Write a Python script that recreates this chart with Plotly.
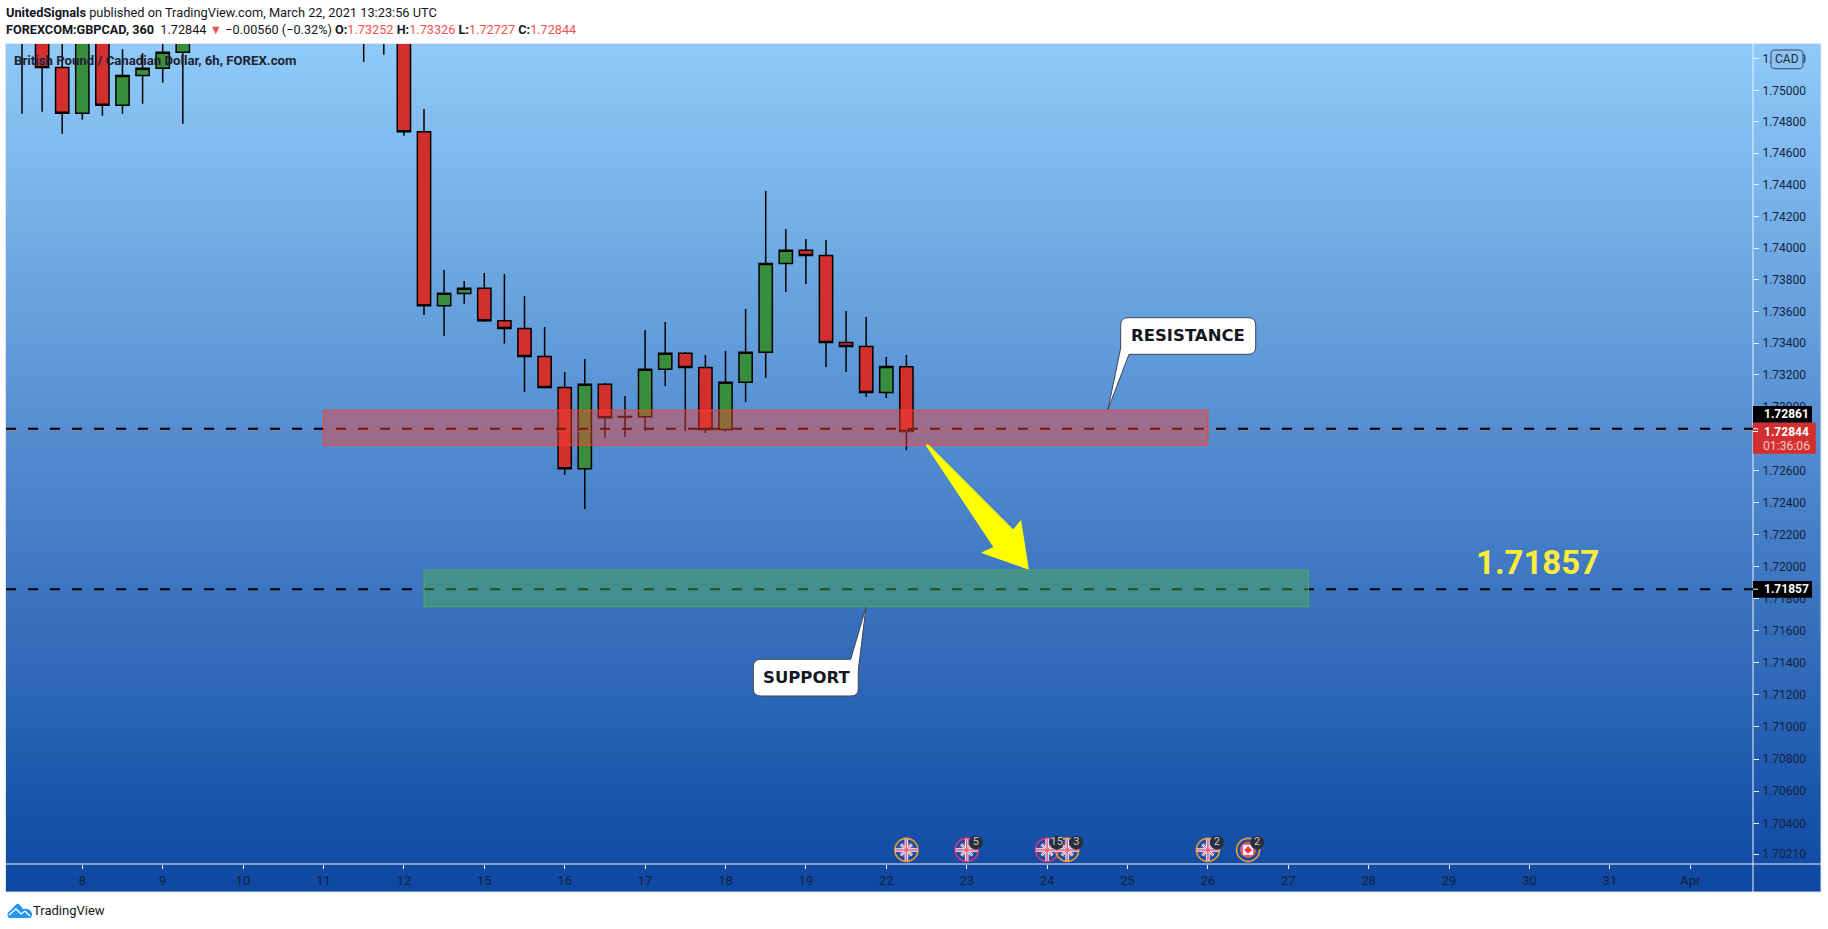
import math
import plotly.graph_objects as go

W, H = 1828, 929

# ---- candle data (bar index 0 = first bar of "8") ----
bar_index = [-3, -2, -1, 0, 1, 2, 3, 4, 5, 14, 15, 16, 17, 18, 19, 20, 21, 22, 23, 24, 25, 26, 27, 28, 29, 30, 31, 32, 33, 34, 35, 36, 37, 38, 39, 40, 41]
opens  = [1.75450, 1.75400, 1.75145, 1.74854, 1.75350, 1.74905, 1.75094, 1.75140, 1.75242, 1.75550, 1.75520, 1.75450, 1.74737, 1.73636, 1.73713, 1.73746, 1.73541, 1.73492, 1.73316, 1.73121, 1.72611, 1.73141, 1.72938, 1.72937, 1.73235, 1.73336, 1.73247, 1.72857, 1.73154, 1.73342, 1.73902, 1.73986, 1.73953, 1.73404, 1.73379, 1.73089, 1.73252]
highs  = [1.75500, 1.75500, 1.75360, 1.75480, 1.75450, 1.75261, 1.75235, 1.75350, 1.75480, 1.75600, 1.75600, 1.75550, 1.74881, 1.73861, 1.73792, 1.73842, 1.73836, 1.73697, 1.73502, 1.73218, 1.73300, 1.73149, 1.73067, 1.73483, 1.73533, 1.73344, 1.73325, 1.73351, 1.73615, 1.74361, 1.74121, 1.74057, 1.74051, 1.73603, 1.73565, 1.73313, 1.73326]
lows   = [1.74851, 1.74864, 1.74724, 1.74813, 1.74839, 1.74851, 1.74915, 1.75048, 1.74788, 1.75182, 1.75226, 1.74711, 1.73577, 1.73445, 1.73649, 1.73533, 1.73397, 1.73093, 1.73115, 1.72572, 1.72358, 1.72804, 1.72810, 1.72847, 1.73130, 1.72847, 1.72835, 1.72841, 1.73030, 1.73182, 1.73722, 1.73773, 1.73250, 1.73218, 1.73061, 1.73055, 1.72727]
closes = [1.75350, 1.75145, 1.74854, 1.75400, 1.74905, 1.75094, 1.75140, 1.75242, 1.75400, 1.75450, 1.75400, 1.74737, 1.73636, 1.73714, 1.73746, 1.73541, 1.73492, 1.73316, 1.73121, 1.72611, 1.73141, 1.72931, 1.72935, 1.73235, 1.73336, 1.73247, 1.72857, 1.73154, 1.73342, 1.73902, 1.73986, 1.73953, 1.73404, 1.73379, 1.73089, 1.73253, 1.72844]

# ---- axis labels ----
price_ticks = [1.752, 1.750, 1.748, 1.746, 1.744, 1.742, 1.740, 1.738, 1.736, 1.734, 1.732, 1.730, 1.728, 1.726, 1.724, 1.722, 1.720, 1.718, 1.716, 1.714, 1.712, 1.710, 1.708, 1.706, 1.704, 1.7021]
day_ticks = [0, 4, 8, 12, 16, 20, 24, 28, 32, 36, 40, 44, 48, 52, 56, 60, 64, 68, 72, 76, 80]
day_labels = ["8", "9", "10", "11", "12", "15", "16", "17", "18", "19", "22", "23", "24", "25", "26", "27", "28", "29", "30", "31", "Apr"]

# ---- levels / zones ----
resistance_level = 1.72861
support_level = 1.71857
last_price = 1.72844
res_zone = dict(x0=12, x1=56, y0=1.72758, y1=1.72978)
sup_zone = dict(x0=17, x1=61, y0=1.71748, y1=1.71975)

# ---- events ----
event_y = 1.70237
badge_y = 1.70282
uk_events = [41, 44, 48, 49, 56]
uk_rings = ["#f29a2e", "#e8336d", "#e8336d", "#f29a2e", "#f29a2e"]
ca_events = [58]
badge_x = [44.45, 48.48, 49.45, 56.45, 58.45]
badge_text = ["5", "15", "3", "2", "2"]

# ---- pixel layout of the frame ----
PL, PR, PT, PB = 6, 1753, 44, 864
SR, SB = 1821, 892
X0PX, XSTEP = 82.3, 20.1
PTOP = 1.75 * math.exp(46.3 / 27528)
PBOT = 1.75 * math.exp(-773.7 / 27528)
XR = [(PL - X0PX) / XSTEP, (PR - X0PX) / XSTEP]

fx = lambda x: x / W
fy = lambda y: 1 - y / H
def poly(pts, close=True):
    s = "M " + " L ".join(f"{fx(x):.5f} {fy(y):.5f}" for x, y in pts)
    return s + (" Z" if close else "")
def seg(cmds):
    out = []
    for c in cmds:
        op = c[0]
        nums = c[1:]
        vals = []
        for i in range(0, len(nums), 2):
            vals += [f"{fx(nums[i]):.5f}", f"{fy(nums[i+1]):.5f}"]
        out.append(op + " " + " ".join(vals))
    return " ".join(out) + " Z"
def round_box(x0, y0, x1, y1, r):
    c = [("M", x0 + r, y0)]
    c += [("L", x1 - r, y0), ("Q", x1, y0, x1, y0 + r), ("L", x1, y1 - r), ("Q", x1, y1, x1 - r, y1)]
    c += [("L", x0 + r, y1), ("Q", x0, y1, x0, y1 - r), ("L", x0, y0 + r), ("Q", x0, y0, x0 + r, y0)]
    return seg(c)

fig = go.Figure()

# gradient pane
fig.add_trace(go.Heatmap(x=[0, 1], y=[0, 1], z=[[0, 0], [1, 1]], zsmooth="best", showscale=False,
                         zmin=0, zmax=1, colorscale=[[0, "#0d47a1"], [1, "#90caf9"]],
                         hoverinfo="skip", xaxis="x", yaxis="y"))

fig.add_trace(go.Candlestick(x=bar_index, open=opens, high=highs, low=lows, close=closes,
                             xaxis="x2", yaxis="y2", hoverinfo="skip", showlegend=False, whiskerwidth=0,
                             increasing=dict(line=dict(color="#000000", width=1.5), fillcolor="#388e3c"),
                             decreasing=dict(line=dict(color="#000000", width=1.5), fillcolor="#d32f2f")))

# event bubbles
def ev(x, y, symbol, size, color, lw=0, lc=None):
    fig.add_trace(go.Scatter(x=x, y=y, mode="markers", xaxis="x2", yaxis="y2", hoverinfo="skip", showlegend=False,
                             marker=dict(symbol=symbol, size=size, color=color, line=dict(width=lw, color=lc or color))))
ys_uk = [event_y] * len(uk_events)
ev(uk_events, ys_uk, "circle-open", 23, uk_rings, 1.6, uk_rings)
ev(uk_events, ys_uk, "circle", 16, "#4a62ad")
ev(uk_events, ys_uk, "x-thin", 11, "#f2f3fb", 2.5, "#f2f3fb")
ev(uk_events, ys_uk, "cross-thin", 16, "#f2f3fb", 3.5, "#f2f3fb")
ev(uk_events, ys_uk, "x-thin", 11, "#ec5a78", 1, "#ec5a78")
ev(uk_events, ys_uk, "cross-thin", 16, "#ec5a78", 1.5, "#ec5a78")
ys_ca = [event_y] * len(ca_events)
ev(ca_events, ys_ca, "circle-open", 23, "#f29a2e", 1.6, "#f29a2e")
ev(ca_events, ys_ca, "circle", 16, "#ef5a5f")
ev(ca_events, ys_ca, "square", 10, "#f7f8fb")
ev(ca_events, ys_ca, "diamond", 6, "#e53945")
fig.add_trace(go.Scatter(x=badge_x, y=[badge_y] * len(badge_x), mode="markers+text", text=badge_text,
                         textposition="middle center", textfont=dict(family="Roboto", size=11, color="#c8cbd4"),
                         xaxis="x2", yaxis="y2", hoverinfo="skip", showlegend=False,
                         marker=dict(size=14, color="#2a2e39")))

shapes = []
# frame
shapes.append(dict(type="rect", xref="paper", yref="paper", x0=fx(PL - 0.5), x1=fx(SR), y0=fy(SB), y1=fy(PT - 0.5),
                   line=dict(color="#e0e3eb", width=1), layer="above"))
# axis cross lines
shapes.append(dict(type="line", xref="paper", yref="paper", x0=fx(PR), x1=fx(PR), y0=fy(PT), y1=fy(SB), line=dict(color="#f0f3fa", width=1)))
shapes.append(dict(type="line", xref="paper", yref="paper", x0=fx(PL), x1=fx(SR), y0=fy(PB), y1=fy(PB), line=dict(color="#f0f3fa", width=1)))
# levels
for lvl in (resistance_level, support_level):
    shapes.append(dict(type="line", xref="x2", yref="y2", x0=XR[0], x1=XR[1], y0=lvl, y1=lvl,
                       line=dict(color="#000000", width=2, dash="10px,12px")))
shapes.append(dict(type="line", xref="x2", yref="y2", x0=XR[0], x1=XR[1], y0=last_price, y1=last_price,
                   line=dict(color="#ef5350", width=1, dash="1px,3px")))
# zones
shapes.append(dict(type="rect", xref="x2", yref="y2", **res_zone, fillcolor="rgba(244,67,54,0.45)", line=dict(color="#f44336", width=1)))
shapes.append(dict(type="rect", xref="x2", yref="y2", **sup_zone, fillcolor="rgba(76,175,80,0.45)", line=dict(color="#4caf50", width=1)))
# arrow
shapes.append(dict(type="path", xref="paper", yref="paper", fillcolor="#ffff00", line=dict(color="#ffff00", width=1),
                   path=poly([(926, 445), (928.5, 445), (1013.3, 530), (1020.7, 520.7), (1028.3, 569), (982, 552.7), (994, 547.3)])))
# callouts
shapes.append(dict(type="path", xref="paper", yref="paper", fillcolor="#ffffff", line=dict(color="#3f4652", width=1),
                   path=seg([("M", 1128, 317.7), ("L", 1248, 317.7), ("Q", 1255.7, 317.7, 1255.7, 325), ("L", 1255.7, 347),
                             ("Q", 1255.7, 354.3, 1248, 354.3), ("L", 1129, 354.3), ("L", 1108, 409.3), ("L", 1120.7, 348),
                             ("L", 1120.7, 325), ("Q", 1120.7, 317.7, 1128, 317.7)])))
shapes.append(dict(type="path", xref="paper", yref="paper", fillcolor="#ffffff", line=dict(color="#3f4652", width=1),
                   path=seg([("M", 761, 659.3), ("L", 850.7, 659.3), ("L", 866, 607.3), ("L", 858.3, 670), ("L", 858.3, 689),
                             ("Q", 858.3, 696, 851, 696), ("L", 761, 696), ("Q", 753.3, 696, 753.3, 689), ("L", 753.3, 667),
                             ("Q", 753.3, 659.3, 761, 659.3)])))
# price tags
shapes.append(dict(type="rect", xref="paper", yref="paper", x0=fx(1753), x1=fx(1812), y0=fy(422.7), y1=fy(406), fillcolor="#000000", line=dict(width=0)))
shapes.append(dict(type="rect", xref="paper", yref="paper", x0=fx(1753), x1=fx(1812), y0=fy(597.7), y1=fy(581), fillcolor="#000000", line=dict(width=0)))
shapes.append(dict(type="rect", xref="paper", yref="paper", x0=fx(1753), x1=fx(1815.7), y0=fy(453.7), y1=fy(422.7), fillcolor="#d32f2f", line=dict(width=0)))
for yy in (428.8, 431.5, 589.2):
    shapes.append(dict(type="line", xref="paper", yref="paper", x0=fx(1753), x1=fx(1758), y0=fy(yy), y1=fy(yy), line=dict(color="#ffffff", width=1)))
# CAD badge
shapes.append(dict(type="path", xref="paper", yref="paper", fillcolor="#8cc4f6", line=dict(color="#37475c", width=1),
                   path=round_box(1771, 50, 1803, 68.7, 4)))
# logo
shapes.append(dict(type="path", xref="paper", yref="paper", fillcolor="#2196f3", line=dict(width=0),
                   path=seg([("M", 9, 918), ("Q", 5, 913, 11, 910), ("L", 16, 904.5), ("Q", 18, 903, 20, 905), ("L", 23, 909),
                             ("Q", 31, 908, 32, 914), ("Q", 32, 918, 29, 918)])))
shapes.append(dict(type="path", xref="paper", yref="paper", line=dict(color="#ffffff", width=1.3),
                   path=poly([(9, 915), (16, 909), (21, 914), (25, 911), (30, 916)], close=False)))

FONT = "Roboto"
def txt(x, y, text, size, color, anchor="left", family=FONT):
    return dict(xref="paper", yref="paper", x=fx(x), y=fy(y), text=text, showarrow=False, xanchor=anchor, yanchor="middle",
                font=dict(family=family, size=size, color=color), align="left", borderpad=0, borderwidth=0)
RD = "#ef5350"
def red(s):
    return f'<span style="color:{RD}">{s}</span>'
annotations = [
    txt(6, 12.5, "<b>UnitedSignals</b> published on TradingView.com, March 22, 2021 13:23:56 UTC", 12.8, "#131722"),
    txt(6, 30, f"<b>FOREXCOM:GBPCAD, 360</b>  1.72844 {red('▼')} −0.00560 (−0.32%) <b>O:</b>{red('1.73252')} <b>H:</b>{red('1.73326')} <b>L:</b>{red('1.72727')} <b>C:</b>{red('1.72844')}", 12.7, "#131722"),
    txt(14, 60, "<b>British Pound / Canadian Dollar, 6h, FOREX.com</b>", 13.2, "#1c2230"),
    txt(1787, 59, "CAD", 12, "#1c2a3c", "center"),
    txt(1764, 414.5, "<b>1.72861</b>", 12, "#ffffff"),
    txt(1764, 432, "<b>1.72844</b>", 12, "#ffffff"),
    txt(1763, 446, "01:36:06", 12.2, "#f6c8c8"),
    txt(1764, 589.2, "<b>1.71857</b>", 12, "#ffffff"),
    txt(1537, 562, "<b>1.71857</b>", 33, "#ffeb3b", "center"),
    txt(1188, 335.5, "<b>RESISTANCE</b>", 16.5, "#131722", "center", "DejaVu Sans"),
    txt(806, 677.5, "<b>SUPPORT</b>", 16.5, "#131722", "center", "DejaVu Sans"),
    txt(33, 910.5, "TradingView", 13, "#131722"),
]

fig.update_layout(
    width=W, height=H, autosize=False,
    margin=dict(l=0, r=0, t=0, b=0),
    paper_bgcolor="#ffffff", plot_bgcolor="rgba(0,0,0,0)",
    showlegend=False, boxgap=0.34, boxgroupgap=0, dragmode=False,
    shapes=shapes, annotations=annotations,
    xaxis=dict(domain=[fx(PL), fx(SR)], range=[0, 1], visible=False, fixedrange=True),
    yaxis=dict(domain=[fy(SB), fy(PT)], range=[0, 1], visible=False, fixedrange=True),
    xaxis2=dict(domain=[fx(PL), fx(PR)], range=XR, anchor="y2", showgrid=False, zeroline=False, fixedrange=True,
                rangeslider=dict(visible=False), tickmode="array", tickvals=day_ticks, ticktext=day_labels,
                ticks="outside", ticklen=4, tickcolor="#f0f3fa", tickwidth=1, showline=False,
                tickfont=dict(family=FONT, size=13, color="#131f3c")),
    yaxis2=dict(domain=[fy(PB), fy(PT)], type="log", range=[math.log10(PBOT), math.log10(PTOP)], anchor="x2", side="right",
                showgrid=False, zeroline=False, fixedrange=True, tickmode="array", tickvals=price_ticks,
                ticktext=[f"{p:.5f}" for p in price_ticks], ticks="outside", ticklen=5, tickcolor="#f0f3fa", tickwidth=1,
                showline=False, ticklabelstandoff=1, tickfont=dict(family=FONT, size=12, color="#131f3c")),
)

fig.write_html("out.html", config=dict(displayModeBar=False, responsive=False),
               post_script="document.body.style.margin='0';document.documentElement.style.overflow='hidden';")
